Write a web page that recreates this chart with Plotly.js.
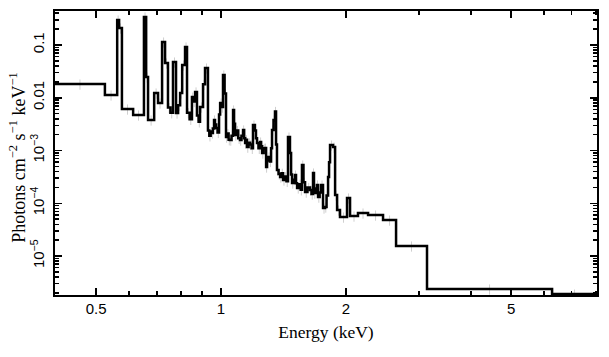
<!DOCTYPE html>
<html>
<head>
<meta charset="utf-8">
<script src="https://cdn.plot.ly/plotly-3.0.1.min.js"></script>
<style>html,body{margin:0;padding:0;background:#fff;}#chart{width:609px;height:357px;}</style>
</head>
<body>
<div id="chart"></div>
<script>
// Bin left edges (keV); the final entry is the right edge of the last bin
const binEdges = [0.398, 0.525, 0.562, 0.568, 0.577, 0.614, 0.652, 0.660, 0.667, 0.690,
  0.705, 0.721, 0.733, 0.745, 0.755, 0.766, 0.779, 0.788, 0.797, 0.806,
  0.819, 0.828, 0.840, 0.851, 0.858, 0.866, 0.875, 0.883, 0.890, 0.905,
  0.915, 0.930, 0.937, 0.944, 0.951, 0.956, 0.962, 0.967, 0.973, 0.981,
  0.989, 0.995, 1.006, 1.011, 1.020, 1.028, 1.035, 1.043, 1.051, 1.060,
  1.069, 1.075, 1.081, 1.090, 1.100, 1.111, 1.120, 1.130, 1.137, 1.143,
  1.149, 1.155, 1.165, 1.175, 1.185, 1.194, 1.207, 1.214, 1.221, 1.231,
  1.242, 1.249, 1.256, 1.266, 1.276, 1.284, 1.291, 1.298, 1.312, 1.320,
  1.327, 1.338, 1.349, 1.357, 1.364, 1.376, 1.388, 1.399, 1.411, 1.425,
  1.438, 1.450, 1.466, 1.475, 1.483, 1.495, 1.508, 1.516, 1.525, 1.545,
  1.556, 1.567, 1.580, 1.594, 1.615, 1.638, 1.652, 1.666, 1.675, 1.690,
  1.703, 1.713, 1.728, 1.742, 1.761, 1.781, 1.796, 1.811, 1.821, 1.831,
  1.862, 1.883, 1.904, 1.935, 2.012, 2.046, 2.138, 2.261, 2.457, 2.641,
  3.136, 6.277, 8.054];
// Flux per bin (photons cm^-2 s^-1 keV^-1)
const flux = [0.0182, 0.0113, 0.298, 0.21, 0.00612, 0.00471, 0.34, 0.0247, 0.00379, 0.0123,
  0.00795, 0.114, 0.0456, 0.0065, 0.0052, 0.0476, 0.00514, 0.0072, 0.0123, 0.0418,
  0.0917, 0.0052, 0.0039, 0.0103, 0.0085, 0.0129, 0.0046, 0.0035, 0.00668, 0.018,
  0.0366, 0.0024, 0.0019, 0.0023, 0.00215, 0.0026, 0.00379, 0.0031, 0.00267, 0.0022,
  0.0048, 0.00795, 0.00668, 0.027, 0.012, 0.0018, 0.0021, 0.0016, 0.00158, 0.0019,
  0.00586, 0.0032, 0.00197, 0.0024, 0.0017, 0.00158, 0.0019, 0.00245, 0.0017, 0.00139,
  0.0016, 0.00116, 0.0014, 0.0013, 0.0011, 0.00304, 0.0024, 0.0017, 0.00139, 0.0011,
  0.00145, 0.0012, 0.000897, 0.0011, 0.00111, 0.000487, 0.00065, 0.000753, 0.00062, 0.0011,
  0.00245, 0.0038, 0.0055, 0.0013, 0.000427, 0.00036, 0.000315, 0.00037, 0.000276, 0.00032,
  0.00026, 0.0018, 0.0009, 0.00035, 0.000242, 0.00028, 0.000343, 0.00024, 0.000195, 0.00023,
  0.00018, 0.000531, 0.00025, 0.000163, 0.0002, 0.000178, 0.00015, 0.000374, 0.000156, 0.00019,
  0.000222, 0.000131, 0.00016, 0.000222, 0.0000813, 0.000085, 0.00014, 0.000315, 0.0006, 0.00127,
  0.00116, 0.000143, 0.0000745, 0.0000548, 0.000126, 0.0000573, 0.0000653, 0.0000598, 0.0000481, 0.0000155,
  0.00000237, 0.0000019];
const xTickVals = [0.5, 1, 2, 5];
const xTickText = ['0.5', '1', '2', '5'];
const yTickVals = [1e-5, 1e-4, 1e-3, 0.01, 0.1];
const yTickText = ['10<sup>\u22125</sup>', '10<sup>\u22124</sup>', '10<sup>\u22123</sup>', '0.01', '0.1'];
const yTitle = 'Photons cm<sup>\u22122</sup> s<sup>\u22121</sup> keV<sup>\u22121</sup>';
const xTitle = 'Energy (keV)';

const stepX = binEdges.slice();
const stepY = flux.concat([flux[flux.length - 1]]);

const centers = flux.map((v, i) => Math.sqrt(binEdges[i] * binEdges[i + 1]));

const xMinor = [0.4, 0.6, 0.7, 0.8, 0.9, 3, 4, 6, 7, 8];
const yMinor = [];
for (let d = -6; d <= -1; d++) {
  for (let m = 2; m <= 9; m++) {
    const v = m * Math.pow(10, d);
    if (v > 1.85e-6 && v < 0.44) yMinor.push(v);
  }
}

const traces = [
  {
    x: centers, y: flux, type: 'scatter', mode: 'markers',
    marker: {size: 1, color: 'rgba(0,0,0,0)'},
    error_y: {type: 'percent', value: 22, color: '#cfcfcf', thickness: 1, width: 0},
    hoverinfo: 'skip', showlegend: false
  },
  {
    x: stepX, y: stepY, type: 'scatter', mode: 'lines',
    line: {shape: 'hv', color: '#000', width: 2.5},
    showlegend: false
  }
];

const layout = {
  width: 609, height: 357,
  margin: {l: 55, r: 12, t: 11, b: 62},
  paper_bgcolor: '#fff', plot_bgcolor: '#fff',
  font: {family: 'Liberation Sans, Arial, sans-serif', size: 14, color: '#000'},
  xaxis: {
    type: 'log', range: [Math.log10(0.398), Math.log10(8.054)],
    tickmode: 'array', tickvals: xTickVals, ticktext: xTickText,
    ticks: 'inside', ticklen: 7, tickwidth: 1.5, tickcolor: '#000',
    ticklabelstandoff: -1,
    showline: true, linewidth: 2, linecolor: '#000', mirror: 'allticks',
    showgrid: false, zeroline: false,
    minor: {tickmode: 'array', tickvals: xMinor, ticks: 'inside', ticklen: 4, tickwidth: 1.5, tickcolor: '#000', showgrid: false},
    tickfont: {family: 'Liberation Sans, Arial, sans-serif', size: 15, color: '#000'},
    title: {text: xTitle, font: {family: 'Liberation Serif, Times New Roman, serif', size: 17.5, color: '#000'}, standoff: 10}
  },
  yaxis: {
    type: 'log', range: [-5.739, -0.3555],
    tickmode: 'array', tickvals: yTickVals, ticktext: yTickText,
    tickangle: -90,
    ticks: 'inside', ticklen: 7, tickwidth: 1.5, tickcolor: '#000',
    ticklabelstandoff: 3,
    showline: true, linewidth: 2, linecolor: '#000', mirror: 'allticks',
    showgrid: false, zeroline: false,
    minor: {tickmode: 'array', tickvals: yMinor, ticks: 'inside', ticklen: 4, tickwidth: 1.5, tickcolor: '#000', showgrid: false},
    tickfont: {family: 'Liberation Sans, Arial, sans-serif', size: 15, color: '#000'}
  },
  annotations: [{
    text: yTitle, textangle: -90, showarrow: false,
    xref: 'paper', yref: 'paper', x: -0.069, y: 0.485,
    xanchor: 'center', yanchor: 'middle',
    font: {family: 'Liberation Serif, Times New Roman, serif', size: 18, color: '#000'}
  }]
};

Plotly.newPlot('chart', traces, layout, {displayModeBar: false, staticPlot: true});
</script>
</body>
</html>
